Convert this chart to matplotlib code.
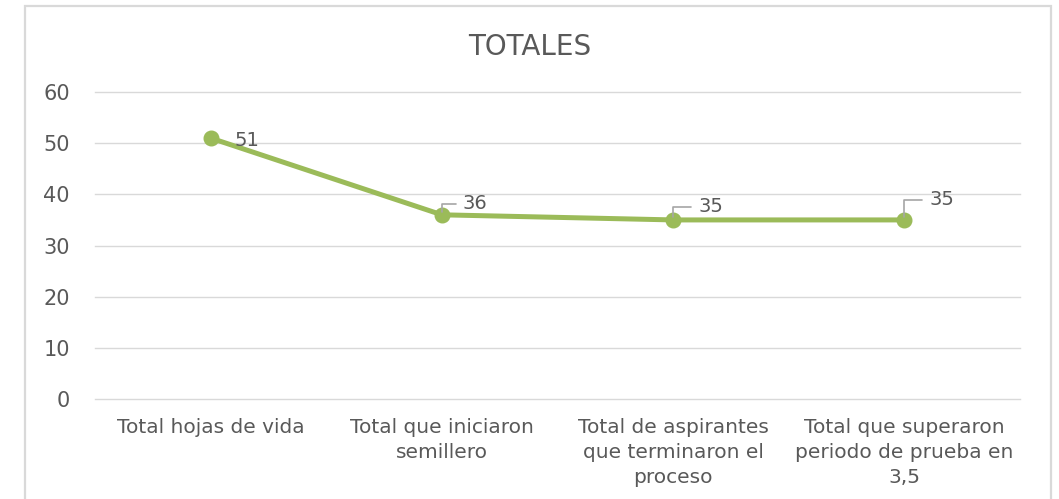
import matplotlib.pyplot as plt
from matplotlib.patches import Rectangle

# Data
categories = ["Total hojas de vida",
              "Total que iniciaron\nsemillero",
              "Total de aspirantes\nque terminaron el\nproceso",
              "Total que superaron\nperiodo de prueba en\n3,5"]
values = [51, 36, 35, 35]
yticks = [0, 10, 20, 30, 40, 50, 60]

plt.rcParams["font.family"] = ["DejaVu Sans"]
grey = "#595959"

fig = plt.figure(figsize=(10.59, 4.99), dpi=100)
ax = fig.add_axes([0.0897, 0.2004, 0.8735, 0.6152])

# chart border
fig.patches.append(Rectangle((25 / 1059, -0.1), 1026 / 1059, 1.1 - 6 / 499,
                             transform=fig.transFigure, fill=False,
                             edgecolor="#D9D9D9", linewidth=1.6))

x = list(range(len(categories)))
ax.plot(x, values, color="#9BBB59", linewidth=3.6, marker="o",
        markersize=10.5, zorder=3)

# data labels (offsets in points)
offsets = [(17, -2), (15, 8), (18, 9.5), (18, 14.5)]
for i, (v, off) in enumerate(zip(values, offsets)):
    if i == 0:
        ax.annotate(str(v), (i, v), xytext=off, textcoords="offset points",
                    ha="left", va="center", fontsize=14, color=grey)
    else:
        ax.annotate(str(v), (i, v), xytext=off, textcoords="offset points",
                    ha="left", va="center", fontsize=14, color=grey,
                    arrowprops=dict(arrowstyle="-", color="#A6A6A6", lw=1.2,
                                    connectionstyle="angle,angleA=0,angleB=90,rad=0",
                                    relpos=(0, 0.5), shrinkA=3, shrinkB=2))

ax.set_xlim(-0.5, 3.5)
ax.set_ylim(0, 60)
ax.set_yticks(yticks)
ax.set_xticks(x)
ax.set_xticklabels(categories, fontsize=14.5, color=grey, linespacing=1.42)
ax.tick_params(axis="y", labelsize=15, labelcolor=grey, length=0, pad=18)
ax.tick_params(axis="x", length=0, pad=13.5)
ax.grid(axis="y", color="#D9D9D9", linewidth=1)
for gl in ax.get_ygridlines():
    gl.set_clip_on(False)
ax.set_axisbelow(True)
for s in ax.spines.values():
    s.set_visible(False)

fig.text(0.5, 0.906, "TOTALES", ha="center", va="center",
         fontsize=20, color=grey)

fig.savefig("out.png", dpi=100)
